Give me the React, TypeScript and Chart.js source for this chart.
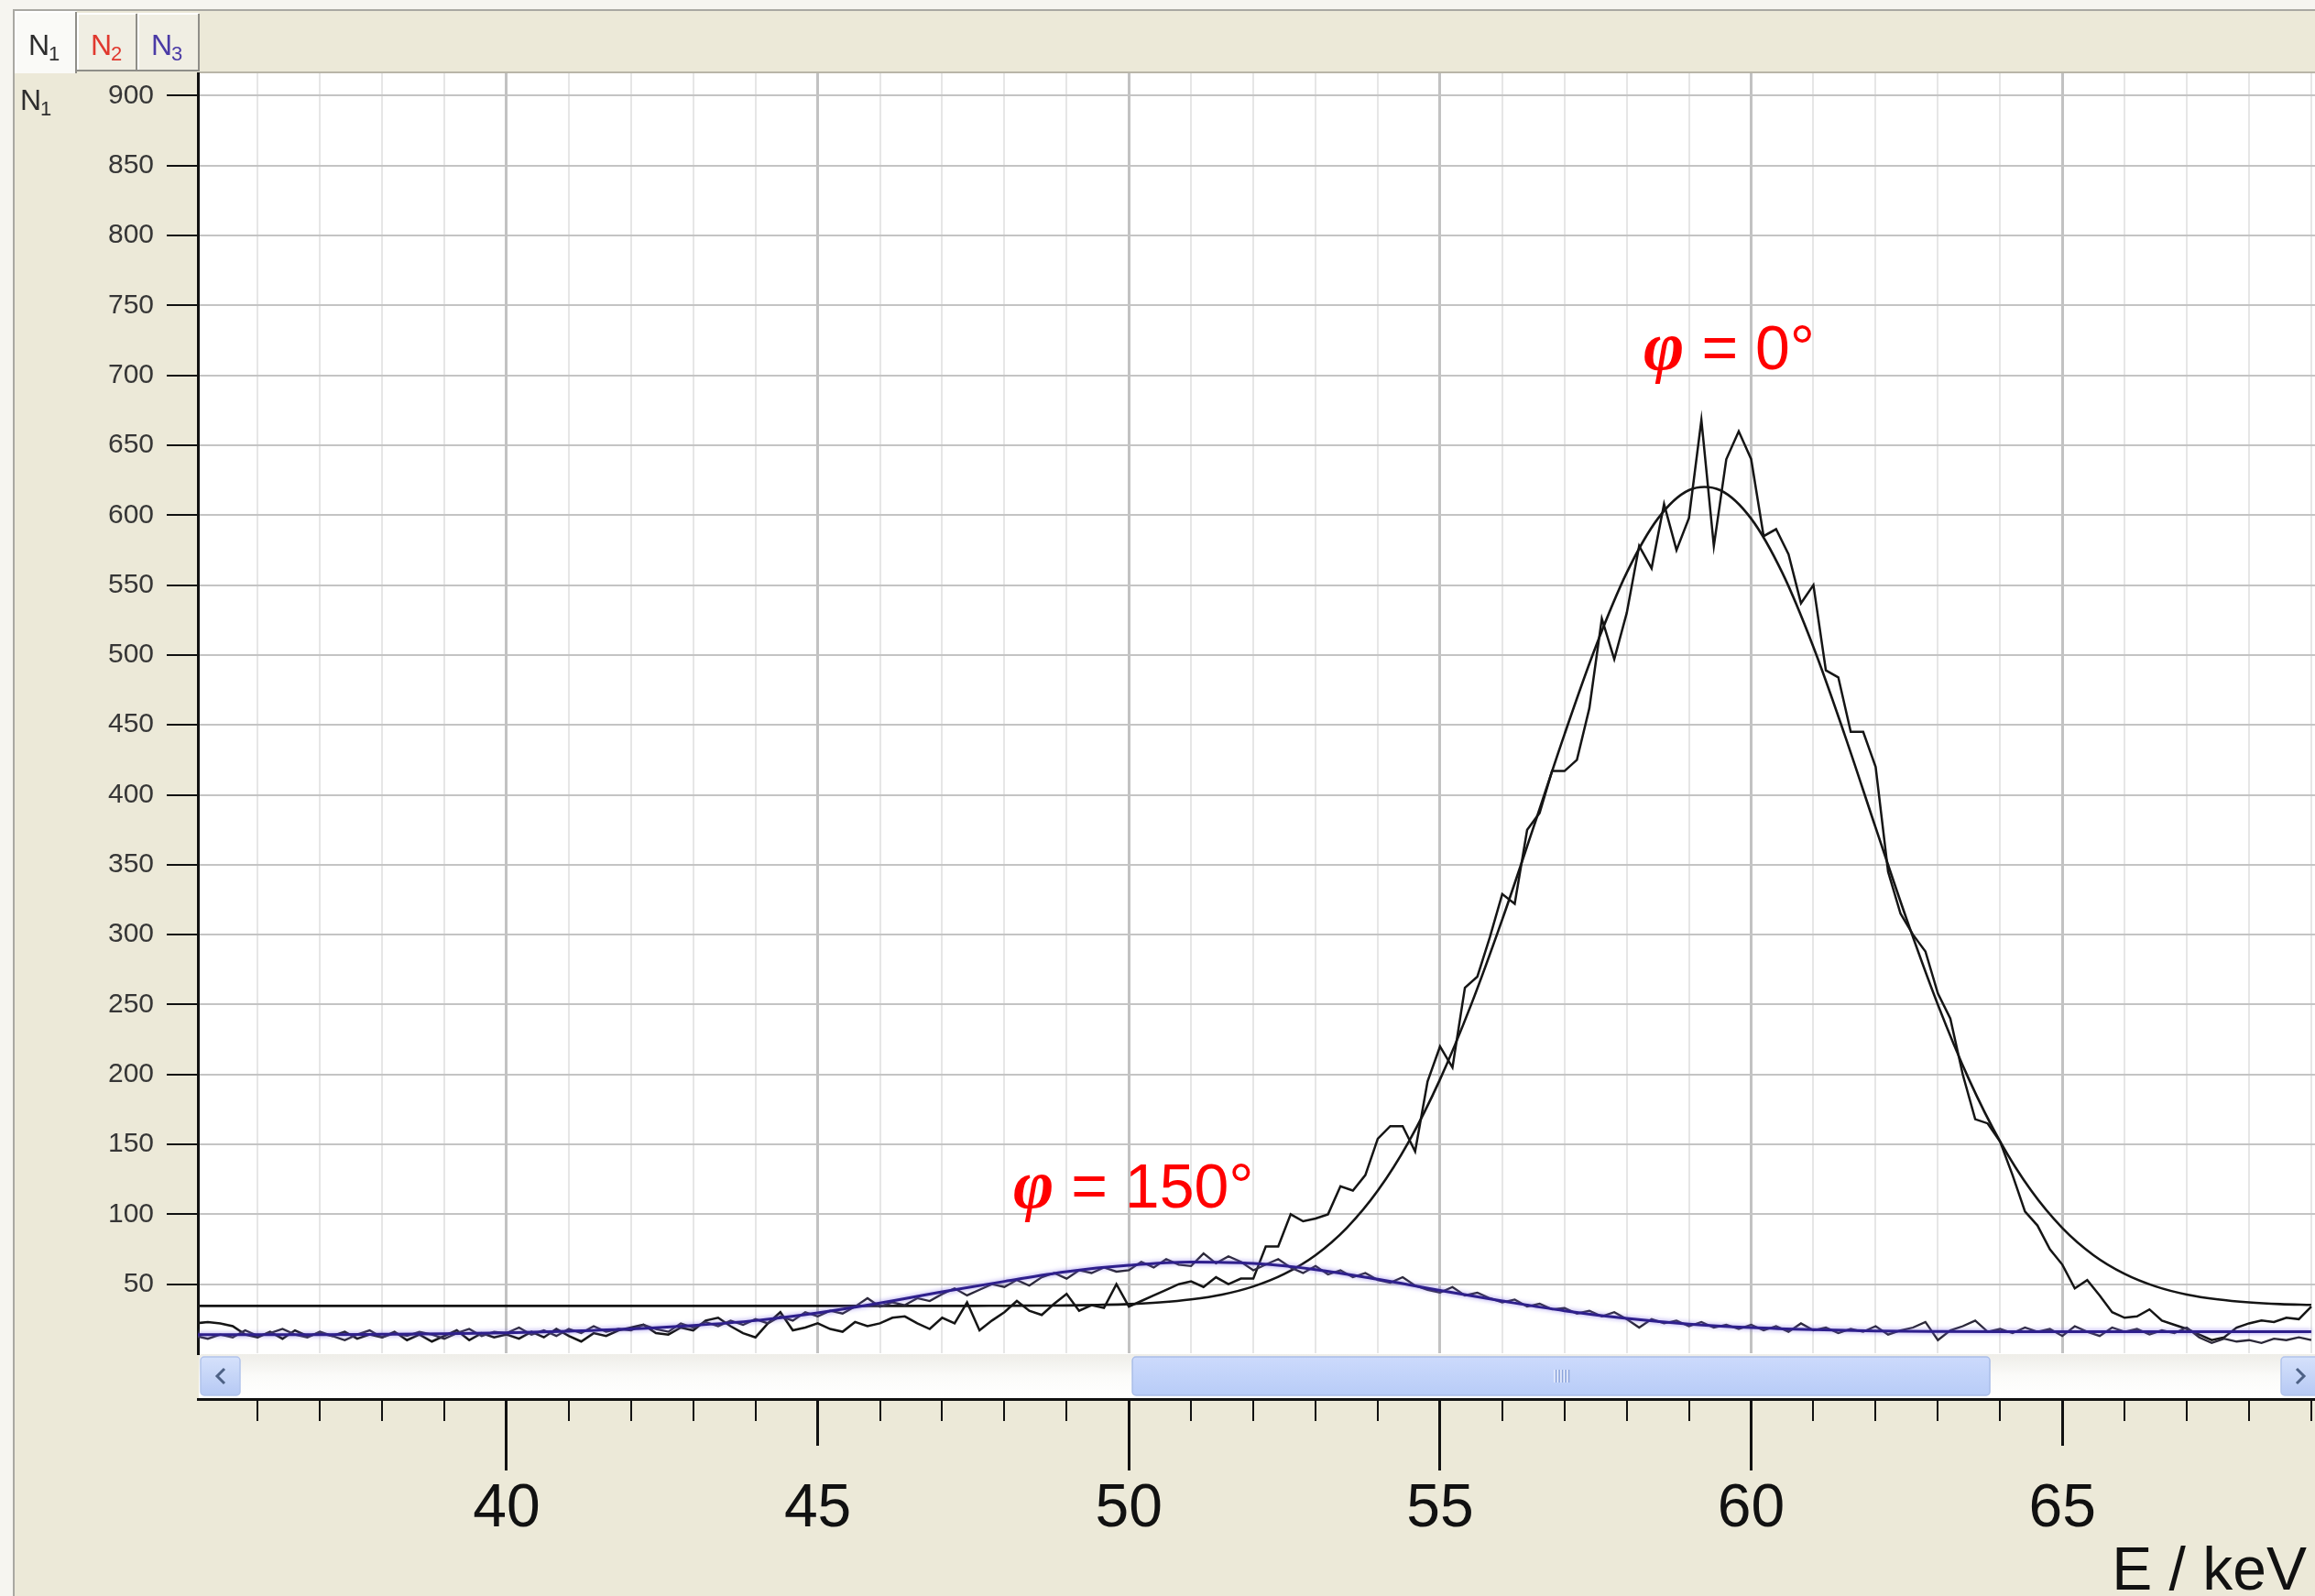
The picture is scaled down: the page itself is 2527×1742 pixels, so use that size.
import React, { useEffect, useRef } from 'react';
import { Chart, registerables } from 'chart.js';

Chart.register(...registerables);

// ---------- axis ranges ----------
const X_MIN = 35.04;
const X_MAX = 69.06;
const Y_MIN = 0;
const Y_MAX = 916;
const Y_STEP = 50;
const X_MINOR_STEP = 1;
const X_MAJOR_STEP = 5;
const SHORT_MAJOR_TICKS = [45, 65];

// ---------- energies ----------
const MEAS_START = 35;
const MEAS_STEP = 0.2;
const FIT0_START = 35;
const FIT0_STEP = 0.5;
const FIT150_START = 35;
const FIT150_STEP = 1;

// ---------- phi = 0 deg, measured counts N1 (every 0.2 keV from 35) ----------
const phi0Measured = [
  22, 23, 22, 20, 14,
  12, 16, 11, 17, 13,
  15, 13, 16, 11, 14,
  12, 16, 10, 14, 9,
  13, 17, 10, 15, 12,
  14, 11, 16, 12, 18,
  13, 9, 15, 13, 17,
  19, 21, 15, 14, 19,
  17, 24, 26, 20, 15,
  12, 22, 30, 17, 19,
  22, 18, 16, 23, 20,
  22, 26, 27, 22, 18,
  26, 22, 37, 17, 24,
  30, 38, 31, 28, 36,
  43, 31, 35, 33, 50,
  34, 38, 42, 46, 50,
  52, 48, 55, 50, 54,
  54, 77, 77, 100, 95,
  97, 100, 120, 117, 128,
  154, 163, 163, 145, 195,
  220, 205, 262, 270, 298,
  329, 322, 375, 387, 417,
  417, 425, 462, 526, 497,
  530, 578, 562, 608, 575,
  598, 668, 578, 640, 660,
  640, 585, 590, 572, 537,
  550, 489, 484, 445, 445,
  420, 345, 315, 300, 288,
  258, 240, 200, 168, 165,
  152, 128, 102, 92, 75,
  64, 47, 53, 42, 30,
  26, 27, 32, 24, 21,
  18, 14, 10, 12, 19,
  22, 24, 23, 26, 25,
  34,
];

// ---------- phi = 150 deg, measured counts (every 0.2 keV from 35) ----------
const phi150Measured = [
  13, 11, 14, 12, 17,
  13, 15, 18, 14, 12,
  16, 13, 10, 14, 17,
  12, 15, 13, 16, 14,
  11, 15, 18, 13, 16,
  15, 19, 14, 17, 13,
  18, 15, 20, 16, 18,
  17, 21, 18, 16, 22,
  19, 23, 20, 24, 21,
  25, 22, 27, 24, 30,
  27, 31, 29, 34, 40,
  34, 37, 35, 40, 38,
  43, 47, 42, 46, 50,
  48, 53, 49, 55, 58,
  54, 60, 58, 62, 59,
  60, 66, 62, 68, 64,
  63, 72, 65, 70, 66,
  60, 64, 68, 62, 58,
  63, 57, 60, 55, 58,
  53, 51, 55, 49, 46,
  44, 48, 42, 44, 40,
  37, 39, 34, 36, 32,
  33, 29, 31, 27, 30,
  25, 19, 25, 22, 24,
  20, 23, 19, 21, 18,
  21, 17, 20, 16, 22,
  17, 19, 15, 18, 16,
  20, 14, 17, 19, 23,
  10, 17, 20, 24, 16,
  18, 15, 19, 16, 18,
  13, 20, 16, 13, 19,
  16, 18, 14, 17, 15,
  19, 12, 8, 11, 9,
  10, 8, 11, 10, 12,
  10,
];

// ---------- phi = 0 deg, fitted curve (every 0.5 keV from 35) ----------
const phi0Fit = [
  34.5, 34.5, 34.5, 34.5, 34.5, 34.5, 34.5, 34.5, 34.5, 34.5,
  34.5, 34.5, 34.5, 34.5, 34.5, 34.5, 34.5, 34.5, 34.5, 34.5,
  34.5, 34.5, 34.5, 34.5, 34.5, 34.5, 34.6, 34.7, 34.8, 35.2,
  35.8, 37.0, 39.1, 42.6, 48.4, 57.4, 70.8, 90.2, 116.9, 152.1,
  196.5, 249.9, 310.8, 376.5, 443.2, 505.7, 558.8, 597.5, 617.9, 617.9,
  597.5, 558.8, 505.7, 443.2, 376.5, 310.8, 249.9, 196.5, 152.1, 116.9,
  90.2, 70.8, 57.4, 48.4, 42.6, 39.1, 37.0, 35.8, 35.2,
];

// ---------- phi = 150 deg, fitted curve (every 1 keV from 35) ----------
const phi150Fit = [
  14, 14, 14, 14.2, 14.5, 15.2, 16.4, 18, 20.5, 24,
  29.5, 36.5, 44.5, 52, 59, 63.5, 65.8, 64.8, 60.5, 53.5,
  45.5, 38, 31, 25.5, 21.5, 19, 17.5, 16.6, 16.2, 16,
  16, 16, 16, 16, 16,
];

// ---------- texts ----------
const annotations = [
  { e: 58.27, n: 704.5, symbol: 'φ', text: ' = 0°' },
  { e: 48.14, n: 104.9, symbol: 'φ', text: ' = 150°' },
];
const tabs = [
  { sub: '1', color: '#2e2e2e', active: true },
  { sub: '2', color: '#e0392f', active: false },
  { sub: '3', color: '#4a3aa6', active: false },
];
const xTitle = 'E / keV';
const yTitleMain = 'N';
const yTitleSub = '1';

const SANS = "'Liberation Sans', Arial, sans-serif";
const SERIF = "'Liberation Serif', 'Times New Roman', serif";

function toPoints(values: number[], start: number, step: number) {
  return values.map((v, i) => ({ x: Math.round((start + i * step) * 100) / 100, y: v }));
}

const isMajor = (v: number) => Math.abs(v % X_MAJOR_STEP) < 1e-6;

const decorPlugin = {
  id: 'decor',
  beforeDraw(chart: any) {
    const { ctx, chartArea: ca, width, height } = chart;
    ctx.save();
    // window background
    ctx.fillStyle = '#ECE9D8';
    ctx.fillRect(0, 0, width, height);
    ctx.fillStyle = '#F6F5F0';
    ctx.fillRect(0, 0, 15, height);
    ctx.fillRect(0, 0, width, 10);
    ctx.strokeStyle = '#A9A8A2';
    ctx.lineWidth = 2;
    ctx.beginPath();
    ctx.moveTo(15, height);
    ctx.lineTo(15, 11);
    ctx.lineTo(width, 11);
    ctx.stroke();

    // tabs
    const tabX = [16, 84, 150, 218];
    tabs.forEach((t, i) => {
      const x0 = tabX[i];
      const w = tabX[i + 1] - x0;
      const y0 = t.active ? 12 : 14;
      const y1 = t.active ? 80 : 78;
      ctx.fillStyle = t.active ? '#FAFAF7' : '#F0EEE3';
      ctx.fillRect(x0, y0, w, y1 - y0);
      ctx.strokeStyle = '#FFFFFF';
      ctx.lineWidth = 2;
      ctx.beginPath();
      ctx.moveTo(x0 + 1, y1);
      ctx.lineTo(x0 + 1, y0 + 1);
      ctx.lineTo(x0 + w - 1, y0 + 1);
      ctx.stroke();
      ctx.strokeStyle = '#8F8E88';
      ctx.beginPath();
      ctx.moveTo(x0 + w - 1, y0 + 1);
      ctx.lineTo(x0 + w - 1, y1);
      if (!t.active) {
        ctx.moveTo(x0, y1 - 1);
        ctx.lineTo(x0 + w, y1 - 1);
      }
      ctx.stroke();
      ctx.fillStyle = t.color;
      ctx.font = `32px ${SANS}`;
      ctx.textBaseline = 'alphabetic';
      ctx.textAlign = 'left';
      const nx = x0 + 15;
      ctx.fillText('N', nx, 60);
      const nw = ctx.measureText('N').width;
      ctx.font = `22px ${SANS}`;
      ctx.fillText(t.sub, nx + nw - 1, 66);
    });
    // line under tab strip
    ctx.strokeStyle = '#B9B6A8';
    ctx.lineWidth = 2;
    ctx.beginPath();
    ctx.moveTo(218, ca.top - 1);
    ctx.lineTo(width, ca.top - 1);
    ctx.stroke();

    // plot background
    ctx.fillStyle = '#FFFFFF';
    ctx.fillRect(ca.left, ca.top, ca.right - ca.left, ca.bottom - ca.top);

    // scrollbar in the band between plot and axis
    const sb = chart.scales.xs;
    const top = sb.top;
    const bot = sb.bottom - 1;
    const left = ca.left + 1;
    const right = ca.right;
    const g = ctx.createLinearGradient(0, top, 0, bot);
    g.addColorStop(0, '#EEEDE8');
    g.addColorStop(0.5, '#FBFBF9');
    g.addColorStop(1, '#FFFFFF');
    ctx.fillStyle = g;
    ctx.fillRect(left, top, right - left, bot - top);

    const btn = (x0: number, x1: number) => {
      const gb = ctx.createLinearGradient(0, top + 3, 0, bot - 3);
      gb.addColorStop(0, '#D5E1FB');
      gb.addColorStop(1, '#B6C9F4');
      ctx.fillStyle = gb;
      ctx.strokeStyle = '#B1C3EC';
      ctx.lineWidth = 1.5;
      ctx.beginPath();
      ctx.roundRect(x0, top + 3, x1 - x0, bot - top - 6, 4);
      ctx.fill();
      ctx.stroke();
    };
    btn(left + 2, left + 45);
    btn(right - 37, right + 4);
    ctx.strokeStyle = '#4D6185';
    ctx.lineWidth = 3;
    const cy = (top + bot) / 2;
    ctx.beginPath();
    ctx.moveTo(left + 28, cy - 8);
    ctx.lineTo(left + 20, cy);
    ctx.lineTo(left + 28, cy + 8);
    ctx.moveTo(right - 20, cy - 8);
    ctx.lineTo(right - 12, cy);
    ctx.lineTo(right - 20, cy + 8);
    ctx.stroke();

    // thumb
    const tw = ca.right - ca.left;
    const th0 = ca.left + tw * 0.4414;
    const th1 = ca.left + tw * 0.8464;
    const gt = ctx.createLinearGradient(0, top + 3, 0, bot - 3);
    gt.addColorStop(0, '#CCDAFC');
    gt.addColorStop(1, '#B8CCF7');
    ctx.fillStyle = gt;
    ctx.strokeStyle = '#A9BDE8';
    ctx.lineWidth = 1.5;
    ctx.beginPath();
    ctx.roundRect(th0, top + 3, th1 - th0, bot - top - 6, 4);
    ctx.fill();
    ctx.stroke();
    const mid = (th0 + th1) / 2;
    for (let k = -2; k <= 2; k++) {
      ctx.strokeStyle = '#EEF3FE';
      ctx.lineWidth = 1.5;
      ctx.beginPath();
      ctx.moveTo(mid + k * 3.5, cy - 7);
      ctx.lineTo(mid + k * 3.5, cy + 7);
      ctx.stroke();
      ctx.strokeStyle = '#8EA5DA';
      ctx.beginPath();
      ctx.moveTo(mid + k * 3.5 + 1.5, cy - 7);
      ctx.lineTo(mid + k * 3.5 + 1.5, cy + 7);
      ctx.stroke();
    }
    ctx.restore();
  },
  beforeDatasetDraw(chart: any, args: any) {
    if (args.index === 0) {
      const ctx = chart.ctx;
      ctx.save();
      ctx.shadowColor = 'rgba(120, 100, 230, 0.75)';
      ctx.shadowBlur = 5;
    }
  },
  afterDatasetDraw(chart: any, args: any) {
    if (args.index === 0) chart.ctx.restore();
  },
  afterDraw(chart: any) {
    const { ctx, width } = chart;
    const xs = chart.scales.x;
    const ys = chart.scales.y;
    ctx.save();
    // annotations
    annotations.forEach((a) => {
      const px = xs.getPixelForValue(a.e);
      const py = ys.getPixelForValue(a.n);
      ctx.fillStyle = '#FF0000';
      ctx.textBaseline = 'alphabetic';
      ctx.textAlign = 'left';
      ctx.font = `italic bold 76px ${SERIF}`;
      ctx.fillText(a.symbol, px, py);
      const sw = ctx.measureText(a.symbol).width;
      ctx.font = `68px ${SANS}`;
      ctx.fillText(a.text, px + sw, py);
    });
    // x axis title
    ctx.fillStyle = '#111111';
    ctx.font = `66px ${SANS}`;
    ctx.textAlign = 'right';
    ctx.textBaseline = 'alphabetic';
    ctx.fillText(xTitle, width - 9, 1735);
    // y axis title
    ctx.fillStyle = '#2e2e2e';
    ctx.textAlign = 'left';
    ctx.font = `32px ${SANS}`;
    ctx.fillText(yTitleMain, 22, 120);
    const nw = ctx.measureText(yTitleMain).width;
    ctx.font = `22px ${SANS}`;
    ctx.fillText(yTitleSub, 22 + nw - 1, 126);
    ctx.restore();
  },
};

export default function App() {
  const canvasRef = useRef<HTMLCanvasElement | null>(null);

  useEffect(() => {
    document.body.style.margin = '0';
    document.body.style.overflow = 'hidden';
    const canvas = canvasRef.current;
    if (!canvas) return;

    const chart = new Chart(canvas, {
      type: 'line',
      data: {
        datasets: [
          {
            label: 'φ = 150° fit',
            data: toPoints(phi150Fit, FIT150_START, FIT150_STEP),
            borderColor: '#2E1F8C',
            borderWidth: 3,
            cubicInterpolationMode: 'monotone',
            pointRadius: 0,
            fill: false,
          },
          {
            label: 'φ = 150° measured',
            data: toPoints(phi150Measured, MEAS_START, MEAS_STEP),
            borderColor: '#2B2838',
            borderWidth: 2.3,
            tension: 0,
            pointRadius: 0,
            fill: false,
          },
          {
            label: 'φ = 0° fit',
            data: toPoints(phi0Fit, FIT0_START, FIT0_STEP),
            borderColor: '#151515',
            borderWidth: 2.6,
            tension: 0.35,
            pointRadius: 0,
            fill: false,
          },
          {
            label: 'φ = 0° measured',
            data: toPoints(phi0Measured, MEAS_START, MEAS_STEP),
            borderColor: '#151515',
            borderWidth: 2.5,
            tension: 0,
            pointRadius: 0,
            fill: false,
          },
        ],
      },
      options: {
        responsive: false,
        maintainAspectRatio: false,
        animation: false,
        events: [],
        devicePixelRatio: 1,
        layout: { padding: { top: 80, left: 0, right: 0, bottom: 0 } },
        plugins: {
          legend: { display: false },
          tooltip: { enabled: false },
          title: { display: false },
        },
        scales: {
          x: {
            type: 'linear',
            position: 'bottom',
            weight: 1,
            min: X_MIN,
            max: X_MAX,
            ticks: { display: false, stepSize: X_MINOR_STEP, includeBounds: false, autoSkip: false },
            grid: {
              drawOnChartArea: true,
              drawTicks: true,
              tickLength: 24,
              color: (c: any) => (c.tick && isMajor(c.tick.value) ? '#C2C2C2' : '#E6E6E6'),
              lineWidth: (c: any) => (c.tick && isMajor(c.tick.value) ? 3 : 2),
              tickColor: '#111111',
              tickWidth: (c: any) => (c.tick && isMajor(c.tick.value) ? 3 : 2),
            },
            border: { display: true, color: '#111111', width: 3 },
            afterFit: (s: any) => {
              s.height = 24;
            },
          },
          xs: {
            type: 'linear',
            position: 'bottom',
            weight: 0,
            min: X_MIN,
            max: X_MAX,
            ticks: { display: false },
            grid: { display: false },
            border: { display: false },
            afterFit: (s: any) => {
              s.height = 49;
            },
          },
          xmaj: {
            type: 'linear',
            position: 'bottom',
            weight: 2,
            min: X_MIN,
            max: X_MAX,
            ticks: {
              stepSize: X_MAJOR_STEP,
              includeBounds: false,
              autoSkip: false,
              maxRotation: 0,
              padding: 3,
              color: '#111111',
              font: { family: SANS, size: 66 },
            },
            grid: {
              drawOnChartArea: false,
              drawTicks: true,
              tickLength: 54,
              tickColor: '#111111',
              tickWidth: 3,
              tickBorderDash: (c: any) =>
                c.tick && SHORT_MAJOR_TICKS.includes(c.tick.value) ? [27, 300] : [],
            },
            border: { display: false },
            afterFit: (s: any) => {
              s.height = 191;
            },
          },
          y: {
            type: 'linear',
            position: 'left',
            min: Y_MIN,
            max: Y_MAX,
            ticks: {
              stepSize: Y_STEP,
              includeBounds: false,
              padding: 14,
              color: '#363636',
              font: { family: SANS, size: 30 },
              callback: (v: any) => (Number(v) === 0 ? '' : String(v)),
            },
            grid: {
              color: (c: any) => (c.tick && c.tick.value === 0 ? 'rgba(0,0,0,0)' : '#C4C4C4'),
              lineWidth: 2,
              tickLength: 34,
              tickColor: (c: any) => (c.tick && c.tick.value === 0 ? 'rgba(0,0,0,0)' : '#111111'),
              tickWidth: 2,
            },
            border: { display: true, color: '#111111', width: 3 },
            afterFit: (s: any) => {
              s.width = 216;
            },
          },
        },
      } as any,
      plugins: [decorPlugin],
    });

    return () => {
      chart.destroy();
    };
  }, []);

  return (
    <canvas
      ref={canvasRef}
      width={2527}
      height={1742}
      style={{ display: 'block', width: '2527px', height: '1742px' }}
    />
  );
}
